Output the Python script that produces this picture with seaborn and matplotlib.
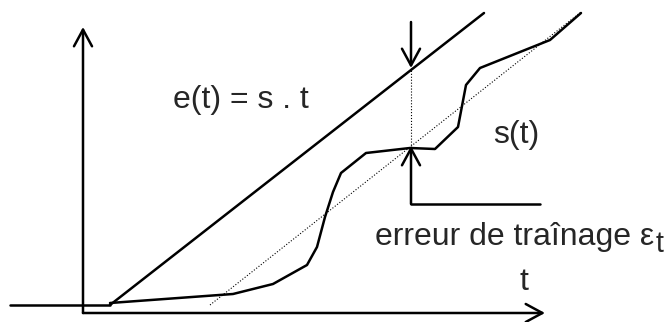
import matplotlib
matplotlib.use("Agg")
import matplotlib.pyplot as plt
import seaborn as sns
import pandas as pd

# coordinates in the diagram frame (origin = axis corner, y up)
pre_t = [-73, 27]
pre_v = [8, 8]

e_t = [27, 401]
e_v = [8, 300]

s_t = [27, 150, 190, 224, 234, 242, 250, 258, 283, 327, 352, 375, 383, 397, 467, 498]
s_v = [10, 19, 29, 48, 66, 96, 121, 140, 160, 165, 164, 186, 228, 245, 273, 300]

ramp_t = [127, 498]
ramp_v = [8, 301]

t_star = 328          # instant where the lag is shown
e_star = 245
s_star = 165

sns.set_style("white")
plt.rcParams['font.family'] = ['Liberation Sans', 'DejaVu Sans']

fig = plt.figure(figsize=(6.66, 3.22), dpi=100)
ax = fig.add_axes([0, 0, 1, 1])

lw = 1.8
sns.lineplot(x=pre_t, y=pre_v, color='black', lw=lw, ax=ax)
sns.lineplot(x=e_t, y=e_v, color='black', lw=lw, ax=ax)
s_df = pd.DataFrame({'t': s_t, 's': s_v})
sns.lineplot(data=s_df, x='t', y='s', sort=False, color='black', lw=lw, ax=ax)
ax.plot(ramp_t, ramp_v, color='black', lw=0.8, ls=':')
ax.plot([t_star, t_star], [s_star, e_star], color='black', lw=0.8, ls=':')

arrow = dict(arrowstyle='->,head_length=1.2,head_width=0.65', lw=lw,
             color='black', shrinkA=0, shrinkB=0, mutation_scale=10)
# axes
ax.annotate('', xy=(0, 286), xytext=(0, 0), arrowprops=arrow)
ax.annotate('', xy=(462, 0), xytext=(0, 0), arrowprops=arrow)
# lag arrows
ax.annotate('', xy=(t_star, e_star), xytext=(t_star, e_star + 46), arrowprops=arrow)
ax.annotate('', xy=(t_star, s_star + 2), xytext=(t_star, 109), arrowprops=arrow)
ax.plot([t_star, 457], [109, 109], color='black', lw=lw)

fs = 23
ax.text(90, 205, 'e(t) = s . t', fontsize=fs, va='baseline')
ax.text(410, 170, 's(t)', fontsize=fs, va='baseline')
err = ax.text(292, 68, 'erreur de traînage ε', fontsize=fs, va='baseline')
ax.annotate('t', xy=(1, 0), xycoords=err, xytext=(1, 0),
            textcoords='offset points', fontsize=fs * 0.9, va='baseline')
ax.text(437, 23, 't', fontsize=fs, va='baseline')

ax.set_xlim(-83, 583)
ax.set_ylim(-9, 313)
ax.axis('off')

fig.savefig('out.png', dpi=100)
